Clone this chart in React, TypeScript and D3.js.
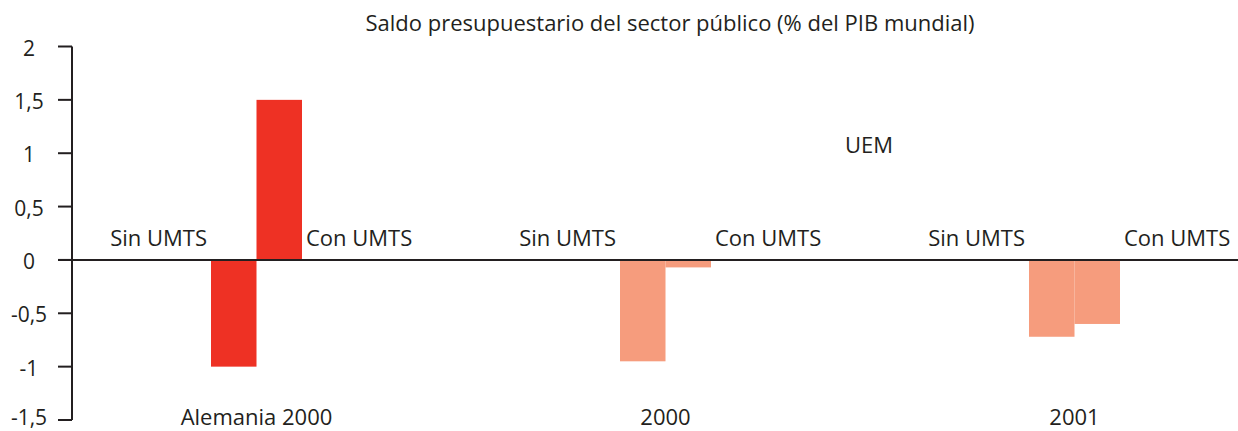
import React from "react";
import * as d3 from "d3";

const categories = ["Alemania 2000", "2000", "2001"];
const series = ["Sin UMTS", "Con UMTS"];
const sinUMTS = [-1.0, -0.95, -0.72];
const conUMTS = [1.5, -0.07, -0.6];
const groupColors = ["#EE3124", "#F69C7D", "#F69C7D"];
const yTicks = [2, 1.5, 1, 0.5, 0, -0.5, -1, -1.5];
const title = "Saldo presupuestario del sector público (% del PIB mundial)";
const annotation = "UEM";

const W = 1238;
const H = 431;
const FONT = "'Open Sans', sans-serif";
const TEXT = "#231F20";
const FS = 22;

export default function App() {
  const y = d3.scaleLinear().domain([-1.5, 2]).range([420, 46.5]);
  const x0 = d3.scaleBand<string>().domain(categories).range([52, 1279]).padding(0);
  const x1 = d3.scaleBand<string>().domain(series).range([0, 91]);
  const bw = x1.bandwidth();
  const fmt = (v: number) => String(v).replace(".", ",");
  const axisX = 72;
  return (
    <svg width={W} height={H} style={{ position: "absolute", left: 0, top: 0, background: "#fff" }} fontFamily={FONT}>
      <text x={670} y={31} textAnchor="middle" fontSize={FS} fill={TEXT}>{title}</text>
      <text x={869} y={153} textAnchor="middle" fontSize={FS} fill={TEXT}>{annotation}</text>
      {categories.map((c, i) => {
        const gx = (x0(c) as number) + x0.bandwidth() / 2 - 45.5;
        const vals = [sinUMTS[i], conUMTS[i]];
        return (
          <g key={c}>
            {series.map((s, j) => {
              const v = vals[j];
              const bx = gx + (x1(s) as number);
              return (
                <rect key={s} x={bx} y={y(Math.max(0, v))} width={bw} height={Math.abs(y(v) - y(0))} fill={groupColors[i]} />
              );
            })}
            <text x={gx - 4} y={246} textAnchor="end" fontSize={FS} fill={TEXT}>{series[0]}</text>
            <text x={gx + 91 + 4} y={246} textAnchor="start" fontSize={FS} fill={TEXT}>{series[1]}</text>
            <text x={gx + 45.5} y={425} textAnchor="middle" fontSize={FS} fill={TEXT}>{c}</text>
          </g>
        );
      })}
      <line x1={axisX} x2={axisX} y1={y(2)} y2={y(-1.5)} stroke={TEXT} strokeWidth={2} />
      <line x1={58} x2={W} y1={y(0)} y2={y(0)} stroke={TEXT} strokeWidth={2} />
      {yTicks.map((t) => (
        <g key={t}>
          <line x1={58} x2={axisX} y1={y(t)} y2={y(t)} stroke={TEXT} strokeWidth={2} />
          <text x={29} y={Math.min(y(t) + 9, 425)} textAnchor="middle" fontSize={21} fill={TEXT}>{fmt(t)}</text>
        </g>
      ))}
    </svg>
  );
}
